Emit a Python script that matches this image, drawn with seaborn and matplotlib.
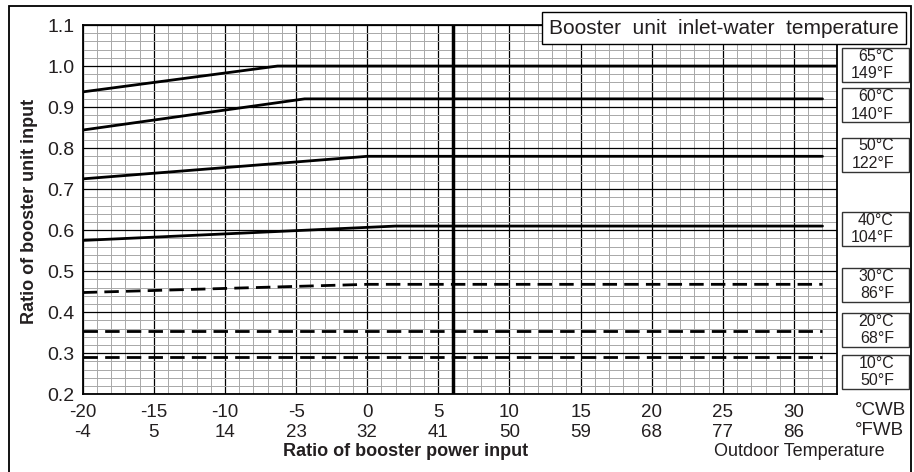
import matplotlib
matplotlib.use("Agg")
import matplotlib.pyplot as plt
import matplotlib.transforms as mtransforms
from matplotlib.patches import Rectangle
from matplotlib.ticker import MultipleLocator
import seaborn as sns

# Outdoor temperature ticks (wet bulb)
temp_cwb = [-20, -15, -10, -5, 0, 5, 10, 15, 20, 25, 30]
temp_fwb = [-4, 5, 14, 23, 32, 41, 50, 59, 68, 77, 86]

# Inlet-water temperature curves
water_c = [65, 60, 50, 40, 30, 20, 10]
water_f = [149, 140, 122, 104, 86, 68, 50]

x_65 = [-20, -6.3, 33]
y_65 = [0.937, 1.0, 1.0]
x_60 = [-20, -4.4, 32]
y_60 = [0.844, 0.92, 0.92]
x_50 = [-20, 0, 32]
y_50 = [0.725, 0.78, 0.78]
x_40 = [-20, 2, 32]
y_40 = [0.575, 0.61, 0.61]
x_30 = [-20, 0, 32]
y_30 = [0.448, 0.468, 0.468]
x_20 = [-20, 32]
y_20 = [0.355, 0.355]
x_10 = [-20, 32]
y_10 = [0.292, 0.292]

# reference temperature marker
marker_x = 6

curves = [(x_65, y_65, "-"), (x_60, y_60, "-"), (x_50, y_50, "-"), (x_40, y_40, "-"),
          (x_30, y_30, "--"), (x_20, y_20, "--"), (x_10, y_10, "--")]

# label box centers (layout only)
label_y = [1.002, 0.904, 0.784, 0.603, 0.467, 0.357, 0.254]

W, H = 914, 472
TXT = "#231f20"


def fx(px):
    return px / W


def fy(py):
    return 1 - py / H


sns.set_style("white")
plt.rcParams["font.family"] = ["Liberation Sans", "DejaVu Sans"]

fig = plt.figure(figsize=(W / 100, H / 100), dpi=100)
left, right, top, bottom = 82.7, 836.7, 25, 394.3
ax = fig.add_axes([fx(left), fy(bottom), (right - left) / W, (bottom - top) / H])

ax.set_xlim(-20, 33)
ax.set_ylim(0.2, 1.1)
ax.xaxis.set_major_locator(MultipleLocator(5))
ax.xaxis.set_minor_locator(MultipleLocator(1))
ax.yaxis.set_major_locator(MultipleLocator(0.1))
ax.yaxis.set_minor_locator(MultipleLocator(0.02))
ax.grid(which="minor", color="#a8a8a8", lw=0.7, zorder=0)
ax.grid(which="major", color="black", lw=0.9, zorder=0)
ax.set_axisbelow(True)

for xs, ys, ls in curves:
    if ls == "-":
        sns.lineplot(x=xs, y=ys, ax=ax, color="black", lw=2.0, errorbar=None)
    else:
        sns.lineplot(x=xs, y=ys, ax=ax, color="black", lw=2.0, errorbar=None,
                     linestyle=(0, (5.2, 2.6)))

ax.axvline(marker_x, color="black", lw=2.5)

for s in ax.spines.values():
    s.set_color("black")
    s.set_linewidth(1.3)

ax.set_xticks(temp_cwb)
ax.set_xticklabels([f"{c}\n{f}" for c, f in zip(temp_cwb, temp_fwb)], fontsize=13.5, color=TXT)
ax.set_yticks([0.2, 0.3, 0.4, 0.5, 0.6, 0.7, 0.8, 0.9, 1.0, 1.1])
ax.set_yticklabels(["0.2", "0.3", "0.4", "0.5", "0.6", "0.7", "0.8", "0.9", "1.0", "1.1"],
                   fontsize=14, color=TXT)
ax.tick_params(axis="both", which="both", length=0)
ax.tick_params(axis="x", pad=7)
ax.tick_params(axis="y", pad=6)
ax.set_xlabel("")
ax.set_ylabel("")

# unit labels and axis titles
fig.text(fx(855), fy(402), "°CWB\n°FWB", fontsize=13.5, color=TXT, ha="left", va="top")
fig.text(fx(406), fy(452), "Ratio of booster power input", fontsize=13, fontweight="bold",
         color=TXT, ha="center", va="center")
fig.text(fx(799), fy(452), "Outdoor Temperature", fontsize=13, color=TXT,
         ha="center", va="center")
fig.text(fx(30), fy(211), "Ratio of booster unit input", fontsize=13, fontweight="bold",
         color=TXT, ha="center", va="center", rotation=90)

# legend title box
fig.add_artist(Rectangle((fx(541.7), fy(44.3)), (906 - 541.7) / W, (44.3 - 11.7) / H,
                         transform=fig.transFigure, fc="white", ec="black", lw=1, zorder=5))
fig.text(fx(723.5), fy(28), "Booster  unit  inlet-water  temperature", fontsize=15,
         color=TXT, ha="center", va="center", zorder=6)

# curve label boxes
blend = mtransforms.blended_transform_factory(fig.transFigure, ax.transData)
bh = 34 / ((bottom - top) / 0.9)
for c, f, yc in zip(water_c, water_f, label_y):
    ax.add_patch(Rectangle((fx(842), yc - bh / 2), (909 - 842) / W, bh, transform=blend,
                           fc="white", ec="#333333", lw=1, clip_on=False, zorder=5))
    ax.text(fx(894), yc, f"{c}°C\n{f}°F", transform=blend, fontsize=11.5, color=TXT,
            ha="right", va="center", multialignment="right", clip_on=False, zorder=6)

# outer frame
fig.add_artist(Rectangle((fx(9), -0.02), (911 - 9) / W, fy(6) + 0.02,
                         transform=fig.transFigure, fill=False, ec="black", lw=1.3))

fig.savefig("out.png", dpi=100)
